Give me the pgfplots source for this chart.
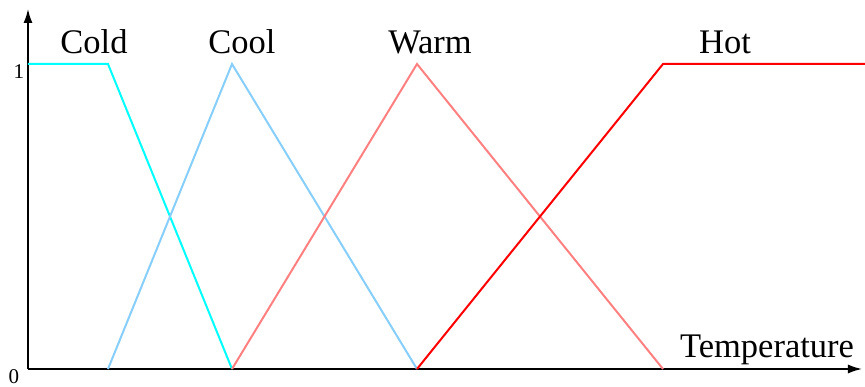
\documentclass[border=0pt]{standalone}
\usepackage{pgfplots}
\pgfplotsset{compat=1.18}
\usepackage{fontspec}
\setmainfont{Liberation Serif}
\usetikzlibrary{arrows.meta}
\definecolor{coldc}{RGB}{0,255,255}
\definecolor{coolc}{RGB}{135,206,250}
\definecolor{warmc}{RGB}{255,128,128}
\definecolor{hotc}{RGB}{255,0,0}
\begin{document}
\begin{tikzpicture}
\useasboundingbox (-28bp,-18bp) rectangle (837bp,369bp);
\begin{axis}[
  at={(0,0)}, anchor=south west,
  scale only axis,
  x=1bp, y=305bp,
  xmin=0, xmax=835,
  ymin=0, ymax=1.1836,
  axis lines=left,
  axis line style={line width=2.7bp, -{Latex[length=15bp,width=9bp]}},
  xtick=\empty, ytick=\empty,
  clip=false,
  every axis plot/.append style={line width=2bp},
]
\addplot[coldc] coordinates {(0,1) (80,1) (204,0)};
\addplot[coolc] coordinates {(80,0) (204,1) (389,0)};
\addplot[warmc] coordinates {(204,0) (389,1) (635,0)};
\addplot[hotc] coordinates {(389,0) (635,1) (837,1)};
\node[anchor=base, font=\fontsize{34.5bp}{40bp}\selectfont] at (axis cs:66,1.036) {Cold};
\node[anchor=base, font=\fontsize{34.5bp}{40bp}\selectfont] at (axis cs:214,1.036) {Cool};
\node[anchor=base, font=\fontsize{34.5bp}{40bp}\selectfont] at (axis cs:402,1.036) {Warm};
\node[anchor=base, font=\fontsize{34.5bp}{40bp}\selectfont] at (axis cs:697,1.036) {Hot};
\node[anchor=base, font=\fontsize{34.5bp}{40bp}\selectfont] at (axis cs:739,0.039) {Temperature};
\node[anchor=base, font=\fontsize{21bp}{25bp}\selectfont] at (axis cs:-9,0.951) {1};
\node[anchor=base, font=\fontsize{21bp}{25bp}\selectfont] at (axis cs:-14,-0.046) {0};
\end{axis}
\end{tikzpicture}
\end{document}
